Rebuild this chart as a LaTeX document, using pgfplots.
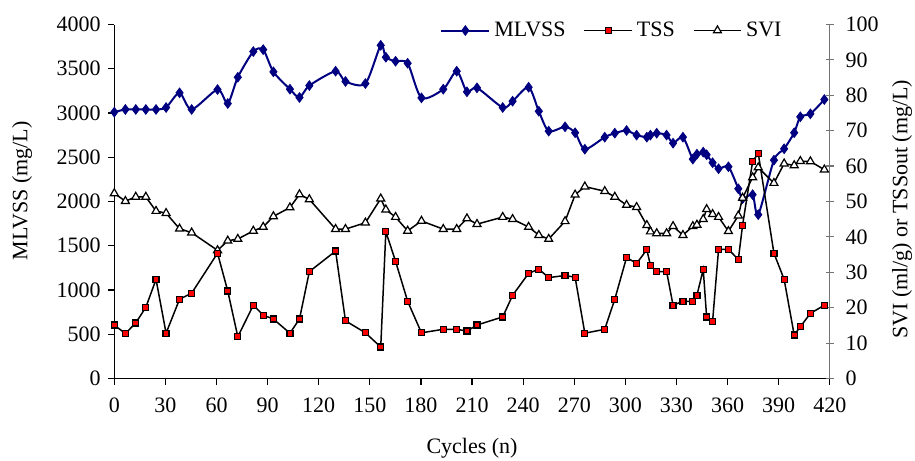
\documentclass[border=0pt]{standalone}
\usepackage{pgfplots}
\usepackage{pgfplotstable}
\pgfplotsset{compat=1.18}
\usepackage{fontspec}
\setmainfont{Liberation Serif}
\definecolor{navy}{RGB}{0,0,128}
\definecolor{tssred}{RGB}{255,0,0}
\pgfplotstableread{
c mlvss svi tss
0 3010 52.3 15.1
6.5 3040 50.1 12.7
12.6 3040 51.3 15.7
18.5 3040 51.3 20.1
24.5 3040 47.3 28.0
30.4 3062 46.7 12.8
38.3 3228 42.3 22.4
45.4 3040 41.2 24.1
60.6 3265 36.2 35.4
66.6 3107 38.9 24.7
72.5 3404 39.4 11.8
81.6 3694 41.7 20.7
87.4 3716 42.8 17.9
93.4 3465 45.8 16.8
103.1 3269 48.3 12.8
108.7 3175 52.0 16.8
114.5 3310 50.6 30.2
129.9 3472 42.2 36.0
135.7 3356 42.2 16.3
147.4 3333 44.0 12.9
156.4 3765 50.8 8.9
159.4 3630 47.7 41.5
165.1 3585 45.6 33.1
172.2 3562 41.7 21.8
180.3 3171 44.5 12.9
193.1 3269 42.2 13.9
201.0 3472 42.2 13.9
207.0 3239 45.2 13.4
212.9 3284 43.6 15.1
228.0 3062 45.6 17.4
233.8 3133 45.0 23.5
243.2 3291 42.8 29.7
249.2 3020 40.5 30.9
255.0 2795 39.4 28.5
264.6 2844 44.4 29.1
270.5 2777 51.9 28.6
276.2 2591 54.2 12.8
287.9 2727 52.9 13.9
293.8 2772 51.3 22.4
300.7 2802 49.0 34.2
306.6 2750 48.4 32.5
312.6 2727 43.3 36.4
314.7 2750 41.5 32.0
318.4 2772 41.0 30.2
324.2 2750 41.0 30.2
328.0 2659 43.0 20.7
333.8 2727 40.5 21.8
339.6 2479 43.0 21.8
342.0 2535 43.4 23.5
345.7 2558 45.0 30.8
347.7 2528 47.8 17.4
351.2 2438 46.4 16.2
354.7 2370 45.6 36.5
360.5 2393 41.6 36.5
366.3 2144 46.0 33.6
368.8 2032 51.0 43.3
374.7 2077 56.8 61.3
378.0 1851 59.6 63.6
387.2 2467 55.2 35.4
393.2 2596 60.7 28.0
399.1 2777 60.2 12.3
402.7 2957 61.4 14.6
408.6 2991 61.3 18.4
416.8 3152 59.0 20.7
}\data
\begin{document}
\fontsize{11}{13}\selectfont
\begin{tikzpicture}
\pgfplotsset{
  every axis/.append style={
    scale only axis, width=357.75pt, height=177pt,
    xmin=0, xmax=420,
    font=\fontsize{11}{13}\selectfont,
    /pgf/number format/assume math mode=true,
    /pgf/number format/1000 sep={},
  },
  mlstyle/.style={navy, line width=1pt, mark=diamond*, mark size=2.4pt, mark options={solid, fill=navy, draw=navy, line width=0.4pt}},
  tssstyle/.style={black, line width=0.75pt, mark=square*, mark size=1.5pt, mark options={solid, fill=tssred, draw=black, line width=0.6pt}},
  svistyle/.style={black, line width=0.75pt, mark=triangle*, mark size=2.3pt, mark options={solid, fill=white, draw=black, line width=0.6pt}},
}
\begin{axis}[
  name=ax,
  axis y line*=left, axis x line*=bottom,
  ymin=0, ymax=4000, ytick={0,500,...,4000},
  xtick={0,30,...,420},
  tick align=outside, major tick length=3pt,
  axis line style={black, line width=0.6pt},
  every tick/.style={black, line width=0.6pt},
  ylabel={MLVSS (mg/L)},
  xlabel={Cycles (n)},
  every axis y label/.style={at={(axis description cs:-0.129,0.53)}, rotate=90, anchor=center},
  every axis x label/.style={at={(axis description cs:0.5,-0.198)}, anchor=center},
  xticklabel style={yshift=-3pt},
]
\addplot[mlstyle, smooth, tension=0.45] table[x=c, y=mlvss]{\data};
\end{axis}
\begin{axis}[
  axis y line*=right, axis x line=none,
  ymin=0, ymax=100, ytick={0,10,...,100},
  tick align=center, major tick length=4pt,
  axis line style={black!55, line width=0.6pt},
  every tick/.style={black!55, line width=0.6pt},
  ylabel={SVI (ml/g) or TSSout (mg/L)},
  every axis y label/.style={at={(axis description cs:1.101,0.478)}, rotate=90, anchor=center},
  yticklabel style={xshift=2pt},
  legend style={at={(0.697,0.983)}, anchor=center, draw=none, fill=none, legend columns=3,
    /tikz/every even column/.append style={column sep=7pt},
    font=\fontsize{11}{13}\selectfont, inner sep=0pt},
  legend cell align=left,
  legend image code/.code={\draw[mark repeat=2,mark phase=2] plot coordinates {(0cm,0cm) (0.42cm,0cm) (0.84cm,0cm)};},
]
\addlegendimage{mlstyle}
\addlegendentry{MLVSS}
\addlegendimage{tssstyle}
\addlegendentry{TSS}
\addlegendimage{svistyle}
\addlegendentry{SVI}
\addplot[svistyle, forget plot] table[x=c, y=svi]{\data};
\addplot[tssstyle, forget plot] table[x=c, y=tss]{\data};
\end{axis}
\pgfresetboundingbox
\path ([xshift=-57.15pt,yshift=-40.85pt]ax.south west) rectangle ([xshift=42.6pt,yshift=12.25pt]ax.north east);
\end{tikzpicture}
\end{document}
